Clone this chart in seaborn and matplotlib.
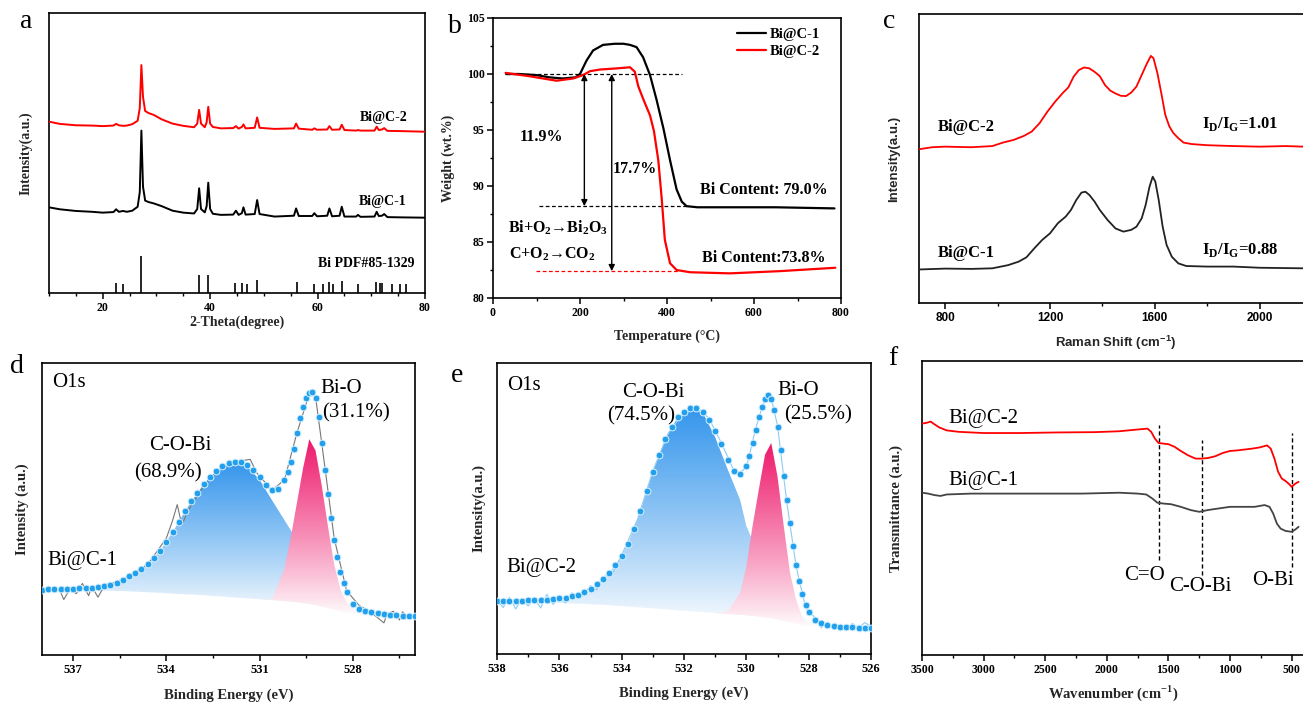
import numpy as np
import pandas as pd
import seaborn as sns
import matplotlib.pyplot as plt
import matplotlib.colors as mcolors
from matplotlib.patches import PathPatch
from matplotlib.path import Path

# ---------------- data ----------------
# (a) XRD
xrd_2theta = [10, 12, 15, 18, 20, 22, 22.5, 23, 23.8, 24.5, 25.5, 26.5, 26.9, 27.2, 27.5, 27.9, 28.5, 29.5,
              31, 33, 35, 37, 37.6, 37.95, 38.3, 39.0, 39.35, 39.65, 40.0, 40.5, 42, 44.3, 44.8, 45.3, 45.9,
              46.2, 46.6, 48.3, 48.75, 49.2, 52, 55.6, 56.0, 56.5, 59.0, 59.4, 59.9, 61.8, 62.2, 62.7, 64.1,
              64.5, 65.0, 67.2, 67.5, 68.0, 70.6, 71.0, 71.4, 72.0, 72.4, 73, 76, 80]
xrd_bic2 = [61.2, 60.4, 59.9, 59.8, 59.6, 59.8, 60.4, 59.9, 59.7, 59.8, 60.3, 61.5, 66.0, 81.4, 70.0, 65.0, 64.3, 63.6,
            62.0, 60.5, 59.7, 59.2, 60.5, 65.4, 60.5, 59.2, 61.0, 66.5, 60.5, 59.3, 58.8, 58.9, 59.6, 58.7, 59.3,
            60.2, 58.8, 59.0, 62.7, 59.0, 58.6, 58.8, 60.5, 58.7, 58.3, 58.8, 58.3, 58.4, 59.6, 58.3, 58.4,
            60.1, 58.2, 58.0, 58.2, 58.0, 58.0, 59.4, 58.2, 58.4, 58.9, 57.9, 57.8, 57.6]
xrd_bic1 = [30.6, 29.9, 29.3, 29.0, 28.7, 28.9, 29.9, 29.0, 29.3, 29.0, 29.4, 30.8, 36.0, 58.0, 38.0, 33.0, 32.5, 32.0,
            31.0, 29.4, 28.7, 28.4, 30.0, 37.4, 30.0, 28.8, 31.0, 39.4, 30.0, 28.3, 27.9, 28.0, 29.4, 27.9, 28.5,
            30.6, 28.0, 28.2, 33.2, 28.2, 27.3, 27.6, 30.2, 27.5, 27.5, 28.5, 27.4, 27.6, 30.2, 27.4, 27.6,
            30.8, 27.3, 27.3, 27.9, 27.2, 27.3, 29.0, 27.5, 27.6, 28.2, 27.1, 27.0, 26.9]
pdf_pos = [22.4, 23.8, 27.2, 38.0, 39.6, 44.6, 46.0, 46.8, 48.7, 56.1, 59.3, 61.1, 62.2, 62.9, 64.5,
           67.5, 70.8, 71.6, 72.0, 73.8, 75.3, 76.5]
pdf_int = [3.6, 3.3, 13.1, 6.3, 6.5, 3.6, 3.6, 3.1, 4.8, 3.9, 3.3, 3.1, 3.9, 3.1, 4.3,
           3.3, 3.8, 3.6, 3.6, 3.3, 3.3, 3.1]

# (b) TGA
tga_t1 = [30, 60, 100, 130, 160, 190, 200, 215, 230, 253, 280, 300, 315, 330, 345, 361, 376, 392, 407, 422,
          434, 445, 470, 550, 650, 785]
tga_w1 = [100.0, 100.0, 99.9, 99.7, 99.6, 99.7, 100.0, 101.2, 102.1, 102.6, 102.7, 102.7, 102.6, 102.4, 101.5,
          99.9, 97.7, 95.1, 92.3, 89.7, 88.6, 88.2, 88.1, 88.1, 88.1, 88.0]
tga_t2 = [29, 84, 146, 184, 207, 223, 246, 284, 315, 326, 334, 345, 361, 370, 380, 388, 395, 407, 422, 453,
          545, 660, 787]
tga_w2 = [100.1, 99.8, 99.4, 99.6, 99.9, 100.25, 100.4, 100.5, 100.6, 100.2, 98.9, 97.8, 96.3, 94.9, 92.3,
          88.8, 85.2, 83.1, 82.5, 82.3, 82.2, 82.4, 82.7]

# (c) Raman
raman_x2 = [700, 750, 800, 900, 980, 1020, 1060, 1100, 1130, 1160, 1190, 1220, 1250, 1270, 1290, 1310, 1330,
            1350, 1370, 1390, 1410, 1430, 1450, 1470, 1490, 1510, 1530, 1550, 1570, 1585, 1595, 1610, 1625,
            1640, 1655, 1670, 1690, 1710, 1740, 1800, 1900, 2000, 2100, 2168]
raman_bic2 = [53.2, 53.9, 54.1, 53.9, 54.3, 55.5, 56.4, 57.8, 59.3, 62.2, 66.2, 69.7, 72.8, 74.6, 78.3, 80.6, 81.5,
              81.2, 80.0, 78.5, 75.4, 73.5, 72.5, 71.7, 71.6, 72.8, 74.9, 78.9, 82.9, 85.5, 84.7, 79.5, 72.5,
              65.1, 61.2, 58.9, 57.0, 55.5, 55.0, 54.6, 54.3, 54.1, 54.3, 54.1]
raman_x1 = [700, 800, 900, 980, 1040, 1080, 1110, 1140, 1170, 1200, 1230, 1260, 1280, 1300, 1320, 1335, 1350,
            1370, 1390, 1420, 1450, 1480, 1510, 1530, 1550, 1565, 1580, 1592, 1602, 1615, 1630, 1645, 1665,
            1690, 1720, 1800, 1900, 2000, 2168]
raman_bic1 = [11.6, 11.9, 11.8, 12.0, 13.1, 14.3, 15.8, 18.9, 21.8, 24.1, 27.6, 29.9, 32.2, 35.6, 38.2, 38.5, 37.4,
              35.1, 32.2, 28.7, 25.8, 24.7, 25.3, 26.4, 29.3, 33.9, 40.3, 43.7, 42.0, 35.6, 26.4, 20.1, 16.0,
              13.7, 12.8, 12.6, 12.6, 12.2, 12.0]

# (d) XPS O1s, Bi@C-1
d_env_be = [538.0, 537.8, 537.6, 537.4, 537.2, 537.0, 536.8, 536.6, 536.4, 536.2, 536.0, 535.8, 535.6, 535.4,
            535.2, 535.0, 534.8, 534.6, 534.4, 534.2, 534.0, 533.8, 533.6, 533.4, 533.2, 533.0, 532.8, 532.6,
            532.4, 532.2, 532.0, 531.8, 531.6, 531.4, 531.2, 531.0, 530.8, 530.6, 530.4, 530.2, 530.1, 530.0,
            529.9, 529.8, 529.7, 529.6, 529.5, 529.4, 529.3, 529.2, 529.1, 529.0, 528.9, 528.8, 528.7, 528.6,
            528.5, 528.4, 528.3, 528.2, 528.0, 527.8, 527.6, 527.4, 527.2, 527.0, 526.8, 526.6, 526.4, 526.2, 526.0]
d_env_y = [22.4, 22.5, 22.5, 22.6, 22.6, 22.7, 22.8, 22.9, 23.1, 23.3, 23.6, 24.1, 24.8, 25.7,
           26.9, 28.2, 29.6, 31.2, 33.2, 35.7, 38.6, 42.0, 45.6, 49.2, 52.6, 55.6, 58.6, 61.0,
           63.0, 64.6, 65.6, 66.1, 66.0, 65.1, 63.4, 61.1, 58.3, 56.4, 57.0, 60.0, 62.5, 66.0,
           70.5, 76.0, 81.0, 85.0, 88.0, 89.8, 90.2, 88.0, 81.5, 72.5, 63.5, 55.0, 47.0, 39.5,
           33.5, 28.5, 24.5, 21.5, 17.5, 15.8, 15.0, 14.6, 14.3, 14.0, 13.8, 13.6, 13.5, 13.4, 13.3]
d_raw_be = [538.0, 537.6, 537.4, 537.3, 537.1, 536.9, 536.7, 536.5, 536.4, 536.2, 536.0, 535.4, 534.6, 534.0,
            533.8, 533.65, 533.5, 533.3, 532.8, 532.2, 531.6, 531.3, 531.1, 530.6, 530.2, 529.8, 529.4, 529.2,
            529.0, 528.6, 528.2, 527.8, 527.4, 527.0, 526.9, 526.7, 526.5, 526.4, 526.2, 526.0]
d_raw_y = [22.0, 23.0, 21.5, 19.0, 22.6, 21.0, 24.5, 20.3, 23.5, 19.8, 23.5, 26.0, 31.0, 40.0,
           46.0, 51.5, 44.5, 49.5, 58.0, 64.5, 66.5, 67.0, 62.5, 56.4, 60.0, 76.0, 89.5, 88.5,
           72.5, 40.0, 22.0, 17.0, 14.5, 11.0, 14.0, 15.0, 12.0, 14.8, 12.5, 13.5]
d_fit_be = [538.0, 537.0, 536.0, 535.4, 535.0, 534.6, 534.2, 533.8, 533.4, 533.0, 532.6, 532.2, 531.8, 531.4,
            531.0, 530.6, 530.2, 530.0, 529.8, 529.6, 529.4, 529.2, 529.0, 528.8, 528.6, 528.4, 528.2, 528.0,
            527.6, 527.0]
d_bg = [22.4, 22.3, 22.1, 21.9, 21.7, 21.5, 21.3, 21.0, 20.8, 20.6, 20.3, 20.0, 19.7, 19.4,
        19.1, 18.8, 18.5, 18.3, 18.1, 17.8, 17.5, 17.1, 16.6, 16.0, 15.5, 15.0, 14.6, 14.2, 13.8, 13.5]
d_cobi = [22.4, 22.7, 23.6, 25.7, 28.2, 31.2, 35.7, 42.0, 49.2, 55.6, 61.0, 64.6, 66.0, 64.6,
          60.0, 53.0, 46.2, 42.8, 39.3, 36.0, 32.5, 29.0, 26.0, 23.0, 20.8, 18.8, 17.3, 16.0, 14.6, 13.5]
d_bio = [22.4, 22.3, 22.1, 21.9, 21.7, 21.5, 21.3, 21.0, 20.8, 20.6, 20.3, 20.0, 19.7, 19.4,
         19.1, 19.0, 29.5, 40.0, 52.0, 64.0, 73.9, 70.0, 58.0, 44.0, 31.0, 22.5, 18.0, 15.5, 13.9, 13.5]

# (e) XPS O1s, Bi@C-2
e_env_be = [538.0, 537.8, 537.6, 537.4, 537.2, 537.0, 536.8, 536.6, 536.4, 536.2, 536.0, 535.8, 535.6, 535.4,
            535.2, 535.0, 534.8, 534.6, 534.4, 534.2, 534.0,
            533.8, 533.6, 533.4, 533.2, 533.0, 532.8, 532.6, 532.4, 532.2, 532.0, 531.8, 531.6, 531.4, 531.2,
            531.0, 530.8, 530.6, 530.4, 530.2, 530.0, 529.9, 529.8, 529.7, 529.6, 529.5, 529.4, 529.3, 529.2,
            529.1, 529.0, 528.9, 528.8, 528.7, 528.6, 528.5, 528.4, 528.3, 528.2, 528.1, 528.0, 527.8, 527.6,
            527.4, 527.2, 527.0, 526.8, 526.6, 526.4, 526.2, 526.0]
e_env_y = [18.1, 18.1, 18.2, 18.2, 18.3, 18.4, 18.5, 18.6, 18.7, 18.9, 19.1, 19.4, 19.8, 20.4,
           21.2, 22.4, 24.0, 25.8, 28.0, 30.6, 33.6,
           37.8, 42.8, 49.0, 56.0, 62.5, 68.5, 73.8, 78.0, 81.3, 83.3, 84.4, 84.4, 83.0, 80.3,
           76.8, 72.0, 66.5, 63.0, 62.0, 64.5, 68.0, 72.5, 77.0, 81.5, 85.0, 87.5, 89.0, 87.5,
           84.0, 78.0, 70.0, 61.0, 53.0, 45.0, 37.0, 30.5, 25.0, 20.5, 17.0, 14.5, 11.8, 10.5,
           9.9, 9.6, 9.4, 9.3, 9.2, 9.1, 9.0, 8.9]
e_raw_be = [538.0, 537.8, 537.6, 537.4, 537.2, 537.0, 536.8, 536.6, 536.4, 536.2, 536.0, 535.8, 535.6, 535.3,
            535.0, 534.8, 534.6, 534.3, 534.0, 533.5, 533.0, 532.5, 532.0, 531.6, 531.2, 530.8, 530.4, 530.2,
            530.0, 529.7, 529.4, 529.2, 529.0, 528.7, 528.4, 528.1, 527.8, 527.6, 527.4, 527.2, 527.0, 526.8,
            526.6, 526.4, 526.2, 526.0]
e_raw_y = [18.5, 16.0, 19.5, 15.5, 18.8, 16.5, 19.2, 15.8, 20.5, 17.0, 19.8, 17.5, 21.0, 19.5,
           23.5, 22.0, 26.5, 27.5, 34.0, 46.0, 63.0, 76.0, 83.0, 85.0, 81.0, 72.5, 63.0, 62.5,
           64.0, 77.5, 88.0, 88.0, 78.5, 52.0, 30.0, 16.0, 12.5, 9.0, 11.0, 8.5, 10.0, 8.0,
           10.5, 9.0, 10.8, 9.5]
e_fit_be = d_fit_be
e_bg = [18.0, 17.8, 17.5, 17.3, 17.1, 16.9, 16.6, 16.3, 16.0, 15.7, 15.4, 15.0, 14.7, 14.4,
        14.1, 13.8, 13.5, 13.3, 13.1, 12.9, 12.6, 12.3, 11.9, 11.4, 10.9, 10.4, 10.0, 9.7, 9.3, 9.0]
e_cobi = [18.0, 18.4, 19.1, 20.4, 22.4, 25.8, 30.6, 37.8, 49.0, 62.5, 73.8, 81.3, 84.4, 83.0,
          74.5, 63.5, 53.0, 44.0, 39.0, 34.5, 30.5, 26.5, 23.0, 20.0, 17.5, 15.0, 13.0, 11.5, 10.0, 9.0]
e_bio = [18.0, 17.8, 17.5, 17.3, 17.1, 16.9, 16.6, 16.3, 16.0, 15.7, 15.4, 15.0, 14.7, 14.4,
         14.1, 14.5, 21.0, 30.0, 44.0, 56.5, 68.5, 72.5, 61.0, 44.0, 28.0, 18.5, 12.5, 10.2, 9.3, 9.0]

# (f) FTIR
ftir_x2 = [3500, 3460, 3430, 3400, 3360, 3300, 3200, 3000, 2700, 2400, 2100, 1900, 1750, 1670, 1640, 1610,
           1580, 1540, 1500, 1450, 1400, 1340, 1280, 1230, 1180, 1120, 1060, 1000, 940, 880, 820, 760, 700,
           670, 640, 610, 580, 550, 520, 500, 470, 444]
ftir_bic2 = [78.7, 79.0, 79.4, 78.5, 77.4, 76.4, 75.9, 75.5, 75.5, 75.7, 75.8, 76.1, 76.7, 77.0, 75.9, 73.6,
             72.1, 71.9, 71.7, 70.8, 69.4, 67.9, 66.8, 66.8, 67.0, 67.6, 68.7, 69.4, 69.6, 69.9, 70.2, 70.6, 71.3,
             70.2, 66.8, 62.3, 60.0, 59.2, 58.1, 57.2, 58.3, 58.9]
ftir_x1 = [3500, 3450, 3400, 3350, 3300, 3100, 2800, 2500, 2200, 1900, 1750, 1680, 1630, 1590, 1540, 1480,
           1400, 1320, 1250, 1180, 1100, 1000, 900, 800, 720, 680, 650, 620, 590, 550, 500, 470, 444]
ftir_bic1 = [55.2, 54.9, 54.4, 54.1, 54.6, 54.9, 54.9, 54.9, 54.9, 55.2, 54.9, 54.6, 53.2, 51.8, 51.5, 51.3,
             50.4, 49.3, 48.7, 49.3, 49.8, 50.4, 50.4, 50.4, 51.0, 50.4, 48.1, 44.7, 43.0, 42.2, 41.9, 42.7, 43.6]
ftir_marks = [1578, 1230, 500]
ftir_mark_lo = [32.3, 27.2, 30.0]
ftir_mark_hi = [78.1, 73.0, 75.5]

# ---------------- style ----------------
sns.set_theme(style='ticks')
SERIF = ['Liberation Serif', 'DejaVu Serif']
SANS = ['Liberation Sans', 'DejaVu Sans']
plt.rcParams['font.family'] = SERIF
plt.rcParams.update({
    'axes.linewidth': 1.2, 'axes.edgecolor': 'black', 'text.color': 'black',
    'xtick.color': 'black', 'ytick.color': 'black',
    'xtick.direction': 'out', 'ytick.direction': 'out',
    'xtick.major.size': 4, 'ytick.major.size': 4, 'xtick.minor.size': 2.5, 'ytick.minor.size': 2.5,
    'xtick.major.width': 1.1, 'ytick.major.width': 1.1, 'xtick.minor.width': 1.0, 'ytick.minor.width': 1.0,
    'xtick.major.pad': 2.5, 'ytick.major.pad': 2.0,
})

W, H = 1303, 703
fig = plt.figure(figsize=(W / 100, H / 100), dpi=100)


def add_ax(l, t, r, b):
    return fig.add_axes([l / W, 1 - b / H, (r - l) / W, (b - t) / H])


def style_ticks(ax, size, family=SERIF):
    for lab in ax.get_xticklabels() + ax.get_yticklabels():
        lab.set_fontsize(size)
        lab.set_fontweight('bold')
        lab.set_family(family)


def labels(ax, xl, yl, xpos, ypos, size, family=SERIF):
    ax.set_xlabel(xl, fontsize=size, fontweight='bold', family=family)
    ax.set_ylabel(yl, fontsize=size, fontweight='bold', family=family)
    ax.xaxis.set_label_coords(0.5, xpos)
    ax.yaxis.set_label_coords(ypos, 0.5)


def gradient_fill(ax, x, top, base, color, z):
    # colour at the peak fading to white at the baseline
    x, top, base = np.asarray(x), np.asarray(top), np.asarray(base)
    verts = np.vstack([np.column_stack([x, top]), np.column_stack([x[::-1], base[::-1]])])
    patch = PathPatch(Path(verts), facecolor='none', edgecolor='none', transform=ax.transData)
    ax.add_patch(patch)
    c = np.array(mcolors.to_rgb(color))
    t = np.linspace(0.0, 1.0, 256)[:, None] ** 0.9
    img = np.ones((256, 1, 3))
    img[:, 0, :] = (1 - t) * np.ones(3) + t * c
    im = ax.imshow(img, extent=[x.min(), x.max(), base.min(), top.max()], origin='lower',
                   aspect='auto', zorder=z, interpolation='bilinear')
    im.set_clip_path(patch)


def line(ax, x, y, color, lw, label=None, z=3):
    df = pd.DataFrame({'x': x, 'y': y})
    sns.lineplot(data=df, x='x', y='y', ax=ax, color=color, lw=lw, estimator=None, sort=False,
                 label=label, zorder=z)


def letter(x, y, s):
    fig.text(x / W, 1 - y / H, s, fontsize=20, ha='center', va='baseline', family=SERIF)


# ---------------- (a) XRD ----------------
ax = add_ax(49, 13, 425, 293)
line(ax, xrd_2theta, xrd_bic2, 'red', 1.4)
line(ax, xrd_2theta, xrd_bic1, 'black', 1.4)
ax.vlines(pdf_pos, 0, pdf_int, color='black', lw=1.2)
ax.set_xlim(10, 80)
ax.set_ylim(0, 100)
ax.set_xticks([20, 40, 60, 80])
ax.set_xticks(np.arange(10, 81, 5), minor=True)
ax.set_yticks([])
kw = dict(fontsize=10, fontweight='bold', ha='right', va='center')
ax.text(76.8, 62.5, 'Bi@C-2', **kw)
ax.text(76.5, 32.5, 'Bi@C-1', **kw)
ax.text(78.1, 10.4, 'Bi PDF#85-1329', **kw)
labels(ax, '2-Theta(degree)', 'Intensity(a.u.)', -0.082, -0.043, 10)
style_ticks(ax, 8.5)

# ---------------- (b) TGA ----------------
ax = add_ax(493, 18, 841, 298)
line(ax, tga_t1, tga_w1, 'black', 1.6, 'Bi@C-1')
line(ax, tga_t2, tga_w2, 'red', 1.6, 'Bi@C-2')
dash = (0, (3, 2))
ax.hlines(100, 30, 435, color='black', lw=0.9, linestyles=[dash])
ax.hlines(88.2, 106, 445, color='black', lw=0.9, linestyles=[dash])
ax.hlines(82.4, 98, 426, color='red', lw=0.9, linestyles=[dash])
for xa, ya in [(210, 88.2), (273, 82.4)]:
    ax.annotate('', xy=(xa, ya), xytext=(xa, 100),
                arrowprops=dict(arrowstyle='<|-|>', color='black', lw=1.0, mutation_scale=9,
                                shrinkA=0, shrinkB=0))
ax.set_xlim(0, 800)
ax.set_ylim(80, 105)
ax.set_xticks([0, 200, 400, 600, 800])
ax.set_xticks(np.arange(0, 801, 100), minor=True)
ax.set_yticks([80, 85, 90, 95, 100, 105])
ax.set_yticks(np.arange(80, 105.1, 2.5), minor=True)
kw = dict(fontsize=11.5, fontweight='bold', ha='center', va='center')
ax.text(111, 94.4, '11.9%', **kw)
ax.text(326, 91.5, '17.7%', **kw)
ax.text(622, 89.6, 'Bi Content: 79.0%', **kw)
ax.text(622, 83.6, 'Bi Content:73.8%', **kw)
ax.text(150, 86.25, r'Bi+O$_\mathregular{2}$→Bi$_\mathregular{2}$O$_\mathregular{3}$', **kw)
ax.text(136, 83.9, r'C+O$_\mathregular{2}$→CO$_\mathregular{2}$', **kw)
ax.legend(loc='upper right', frameon=False, prop=dict(family=SERIF, weight='bold', size=10.5),
          handlelength=2.0, handletextpad=0.3, labelspacing=0.25, borderaxespad=0.3,
          bbox_to_anchor=(0.97, 1.0))
labels(ax, 'Temperature (°C)', 'Weight (wt.%)', -0.111, -0.109, 10)
style_ticks(ax, 8.5)

# ---------------- (c) Raman ----------------
ax = add_ax(919, 14, 1312, 303)
line(ax, raman_x2, raman_bic2, 'red', 1.3)
line(ax, raman_x1, raman_bic1, '#222222', 1.3)
ax.set_xlim(700, 2200)
ax.set_ylim(0, 100)
ax.set_xticks([800, 1200, 1600, 2000])
ax.set_xticks([1000, 1400, 1800], minor=True)
ax.set_yticks([])
kw = dict(fontsize=12, fontweight='bold', ha='left', va='center')
ax.text(772, 60.9, 'Bi@C-2', **kw)
ax.text(772, 17.3, 'Bi@C-1', **kw)
ax.text(1780, 61.9, r'I$_\mathregular{D}$/I$_\mathregular{G}$=1.01', **kw)
ax.text(1780, 18.3, r'I$_\mathregular{D}$/I$_\mathregular{G}$=0.88', **kw)
labels(ax, r'Raman Shift (cm$^\mathregular{-1}$)', 'Intensity(a.u.)', -0.105, -0.048, 9.5, SANS)
style_ticks(ax, 8.5, SANS)


# ---------------- (d) / (e) XPS ----------------
def xps(ax, env_be, env_y, raw_be, raw_y, raw_color, fit_be, bg, cobi, bio, xticks, xminor):
    gradient_fill(ax, fit_be, cobi, bg, '#3596EC', 2)
    gradient_fill(ax, fit_be, bio, bg, '#EE1A6C', 2.5)
    line(ax, raw_be, raw_y, raw_color, 0.8, z=3)
    sns.scatterplot(x=env_be, y=env_y, ax=ax, s=24, color='#22A0EC', edgecolor='#D8F0FF',
                    linewidth=0.7, zorder=4)
    ax.set_xlim(538, 526)
    ax.set_ylim(0, 100)
    ax.set_xticks(xticks)
    ax.set_xticks(xminor, minor=True)
    ax.set_yticks([])


ax = add_ax(42, 363, 415, 655)
xps(ax, d_env_be, d_env_y, d_raw_be, d_raw_y, '#777777', d_fit_be, d_bg, d_cobi, d_bio,
    [537, 534, 531, 528], [535.5, 532.5, 529.5, 526.5])
kw = dict(fontsize=15, va='center')
ax.text(537.68, 93.2, 'O1s', ha='left', **kw)
ax.text(533.56, 71.9, 'C-O-Bi', ha='center', **kw)
ax.text(533.95, 62.3, '(68.9%)', ha='center', **kw)
ax.text(529.03, 91.4, 'Bi-O', ha='left', **kw)
ax.text(528.99, 82.9, '(31.1%)', ha='left', **kw)
ax.text(537.84, 32.5, 'Bi@C-1', ha='left', **kw)
labels(ax, 'Binding Energy (eV)', 'Intensity (a.u.)', -0.116, -0.035, 10.5)
style_ticks(ax, 9)

ax = add_ax(497, 363, 871, 654)
xps(ax, e_env_be, e_env_y, e_raw_be, e_raw_y, '#8CCBF5', e_fit_be, e_bg, e_cobi, e_bio,
    [538, 536, 534, 532, 530, 528, 526], np.arange(526, 538.1, 1))
ax.text(537.67, 92.4, 'O1s', ha='left', **kw)
ax.text(532.97, 89.7, 'C-O-Bi', ha='center', **kw)
ax.text(533.39, 81.8, '(74.5%)', ha='center', **kw)
ax.text(528.99, 90.7, 'Bi-O', ha='left', **kw)
ax.text(528.79, 82.1, '(25.5%)', ha='left', **kw)
ax.text(537.70, 29.6, 'Bi@C-2', ha='left', **kw)
labels(ax, 'Binding Energy (eV)', 'Intensity(a.u.)', -0.113, -0.032, 10.5)
style_ticks(ax, 9)

# ---------------- (f) FTIR ----------------
ax = add_ax(922, 361, 1304, 655)
line(ax, ftir_x2, ftir_bic2, 'red', 1.3)
line(ax, ftir_x1, ftir_bic1, '#444444', 1.3)
ax.vlines(ftir_marks, ftir_mark_lo, ftir_mark_hi, color='black', lw=1.0, linestyles=[dash])
ax.set_xlim(3500, 400)
ax.set_ylim(0, 100)
ax.set_xticks([3500, 3000, 2500, 2000, 1500, 1000, 500])
ax.set_xticks(np.arange(500, 3501, 250), minor=True)
ax.set_yticks([])
ax.text(3289, 80.5, 'Bi@C-2', ha='left', **kw)
ax.text(3289, 59.3, 'Bi@C-1', ha='left', **kw)
ax.text(1698, 27.2, 'C=O', ha='center', **kw)
ax.text(1243, 23.2, 'C-O-Bi', ha='center', **kw)
ax.text(820, 25.5, 'O-Bi', ha='left', **kw)
labels(ax, r'Wavenumber (cm$^\mathregular{-1}$)', 'Transmittance (a.u.)', -0.098, -0.049, 10.5)
style_ticks(ax, 8.5)

# panel letters
letter(26, 28, 'a')
letter(455, 33, 'b')
letter(889, 28, 'c')
letter(17, 373, 'd')
letter(457, 382, 'e')
letter(893, 365, 'f')

fig.savefig('out.png', dpi=100)
